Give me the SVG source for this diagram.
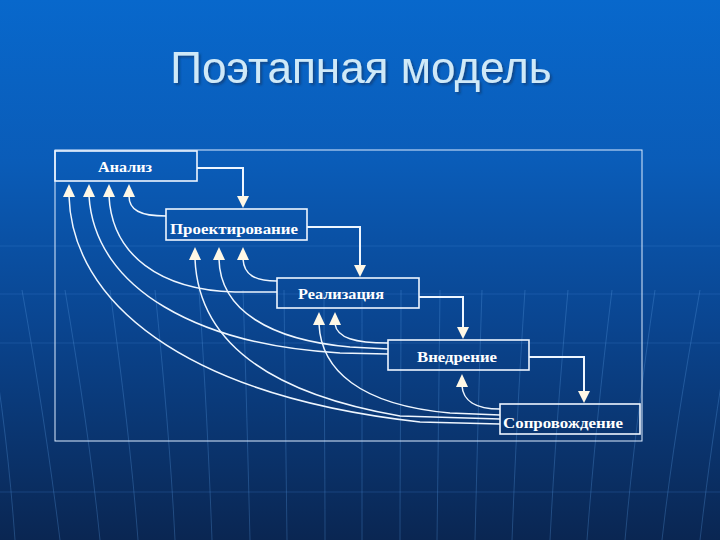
<svg xmlns="http://www.w3.org/2000/svg" width="720" height="540" viewBox="0 0 720 540">
<defs>
<linearGradient id="bg" x1="0" y1="0" x2="0" y2="1">
<stop offset="0" stop-color="#0868cc"/>
<stop offset="0.3" stop-color="#0a5cb8"/>
<stop offset="0.6" stop-color="#0a4590"/>
<stop offset="1" stop-color="#0a2652"/>
</linearGradient>
<filter id="shadow" x="-5%" y="-20%" width="110%" height="140%">
<feDropShadow dx="2" dy="2" stdDeviation="1" flood-color="#0a3060" flood-opacity="0.6"/>
</filter>
<style>
.box{fill:none;stroke:#eef6ff;stroke-width:1.6}
.lbl{font-family:"Liberation Serif","Times New Roman",serif;font-size:15px;font-weight:bold;fill:#ffffff;text-anchor:middle}
.fwd{fill:none;stroke:#eef6ff;stroke-width:2}
.fb{fill:none;stroke:#eef6ff;stroke-width:1.5}
.ah{fill:#fff8e6}
.deco{fill:none;stroke:#5a9ae0;stroke-width:1;opacity:0.3}
.hl{fill:none;stroke:#4a8ad8;stroke-width:1;opacity:0.25}
</style>
</defs>
<rect width="720" height="540" fill="url(#bg)"/>
<g id="background-lines">
<path class="hl" d="M0,246 H720 M0,294 H720 M0,343 H720 M0,492 H720"/>
<path class="deco" d="M15,540 C10,470 2,400 -10,330"/>
<path class="deco" d="M60,540 C50,460 38,380 22,290"/>
<path class="deco" d="M100,540 C92,460 80,380 65,290"/>
<path class="deco" d="M138,540 C132,460 122,380 110,290"/>
<path class="deco" d="M175,540 C171,460 164,380 155,290"/>
<path class="deco" d="M212,540 C209,460 205,380 199,290"/>
<path class="deco" d="M250,540 C248,460 246,380 243,290"/>
<path class="deco" d="M287,540 C286,460 285,380 284,290"/>
<path class="deco" d="M325,540 C325,460 324,380 324,290"/>
<path class="deco" d="M362,540 C362,460 362,380 362,290"/>
<path class="deco" d="M400,540 C400,460 401,380 401,290"/>
<path class="deco" d="M437,540 C438,460 439,380 440,290"/>
<path class="deco" d="M475,540 C477,460 479,380 482,290"/>
<path class="deco" d="M512,540 C515,460 519,380 525,290"/>
<path class="deco" d="M550,540 C554,460 560,380 568,290"/>
<path class="deco" d="M587,540 C593,460 601,380 612,290"/>
<path class="deco" d="M625,540 C632,460 642,380 655,290"/>
<path class="deco" d="M662,540 C671,460 684,380 700,290"/>
<path class="deco" d="M700,540 C708,470 718,400 730,330"/>
</g>
<text x="361" y="83" font-family="Liberation Sans, Arial, sans-serif" font-size="44" fill="#cfe9f8" text-anchor="middle" filter="url(#shadow)">Поэтапная модель</text>
<rect x="55" y="150" width="587" height="291" fill="none" stroke="#dcecff" stroke-width="1"/>
<g id="connectors">
<path class="fwd" d="M197,168 H243 V197"/>
<polygon class="ah" points="237,196 249,196 243,208"/>
<path class="fwd" d="M307,227 H360 V266"/>
<polygon class="ah" points="354,265 366,265 360,277"/>
<path class="fwd" d="M419,297 H463 V328"/>
<polygon class="ah" points="457,327 469,327 463,339"/>
<path class="fwd" d="M529,357 H584 V392"/>
<polygon class="ah" points="578,391 590,391 584,403"/>
<path class="fb" d="M129,196 C129,210 140,216 166,216"/>
<path class="fb" d="M109,196 C112,255 160,290 235,292 L277,292"/>
<path class="fb" d="M89,196 C95,290 200,345 340,353 L388,354"/>
<path class="fb" d="M69,196 C72,300 180,395 420,422 L500,424"/>
<path class="fb" d="M243,259 C244,275 255,281 277,281"/>
<path class="fb" d="M219,259 C220,310 270,340 350,347 L388,349"/>
<path class="fb" d="M195,259 C198,330 250,390 400,416 L500,419"/>
<path class="fb" d="M335,324 C337,338 355,343 388,343"/>
<path class="fb" d="M319,324 C321,370 360,405 450,413 L500,415"/>
<path class="fb" d="M462,386 C463,400 475,409 500,409"/>
<polygon class="ah" points="69,184 63,197 75,197"/>
<polygon class="ah" points="89,184 83,197 95,197"/>
<polygon class="ah" points="109,184 103,197 115,197"/>
<polygon class="ah" points="129,184 123,197 135,197"/>
<polygon class="ah" points="195,247 189,260 201,260"/>
<polygon class="ah" points="219,247 213,260 225,260"/>
<polygon class="ah" points="243,247 237,260 249,260"/>
<polygon class="ah" points="319,312 313,325 325,325"/>
<polygon class="ah" points="335,312 329,325 341,325"/>
<polygon class="ah" points="462,374 456,387 468,387"/>
</g>
<g id="analysis">
<rect class="box" x="55" y="151" width="142" height="30"/>
<text class="lbl" x="125" y="172" textLength="54" lengthAdjust="spacingAndGlyphs">Анализ</text>
</g>
<g id="design">
<rect class="box" x="166" y="209" width="141" height="31"/>
<text class="lbl" x="234" y="234" textLength="128" lengthAdjust="spacingAndGlyphs">Проектирование</text>
</g>
<g id="implementation">
<rect class="box" x="277" y="278" width="142" height="30"/>
<text class="lbl" x="341" y="299" textLength="86" lengthAdjust="spacingAndGlyphs">Реализация</text>
</g>
<g id="deployment">
<rect class="box" x="388" y="340" width="141" height="30"/>
<text class="lbl" x="457" y="362" textLength="80" lengthAdjust="spacingAndGlyphs">Внедрение</text>
</g>
<g id="maintenance">
<rect class="box" x="500" y="404" width="140" height="30"/>
<text class="lbl" x="563" y="428" textLength="120" lengthAdjust="spacingAndGlyphs">Сопровождение</text>
</g>
</svg>
